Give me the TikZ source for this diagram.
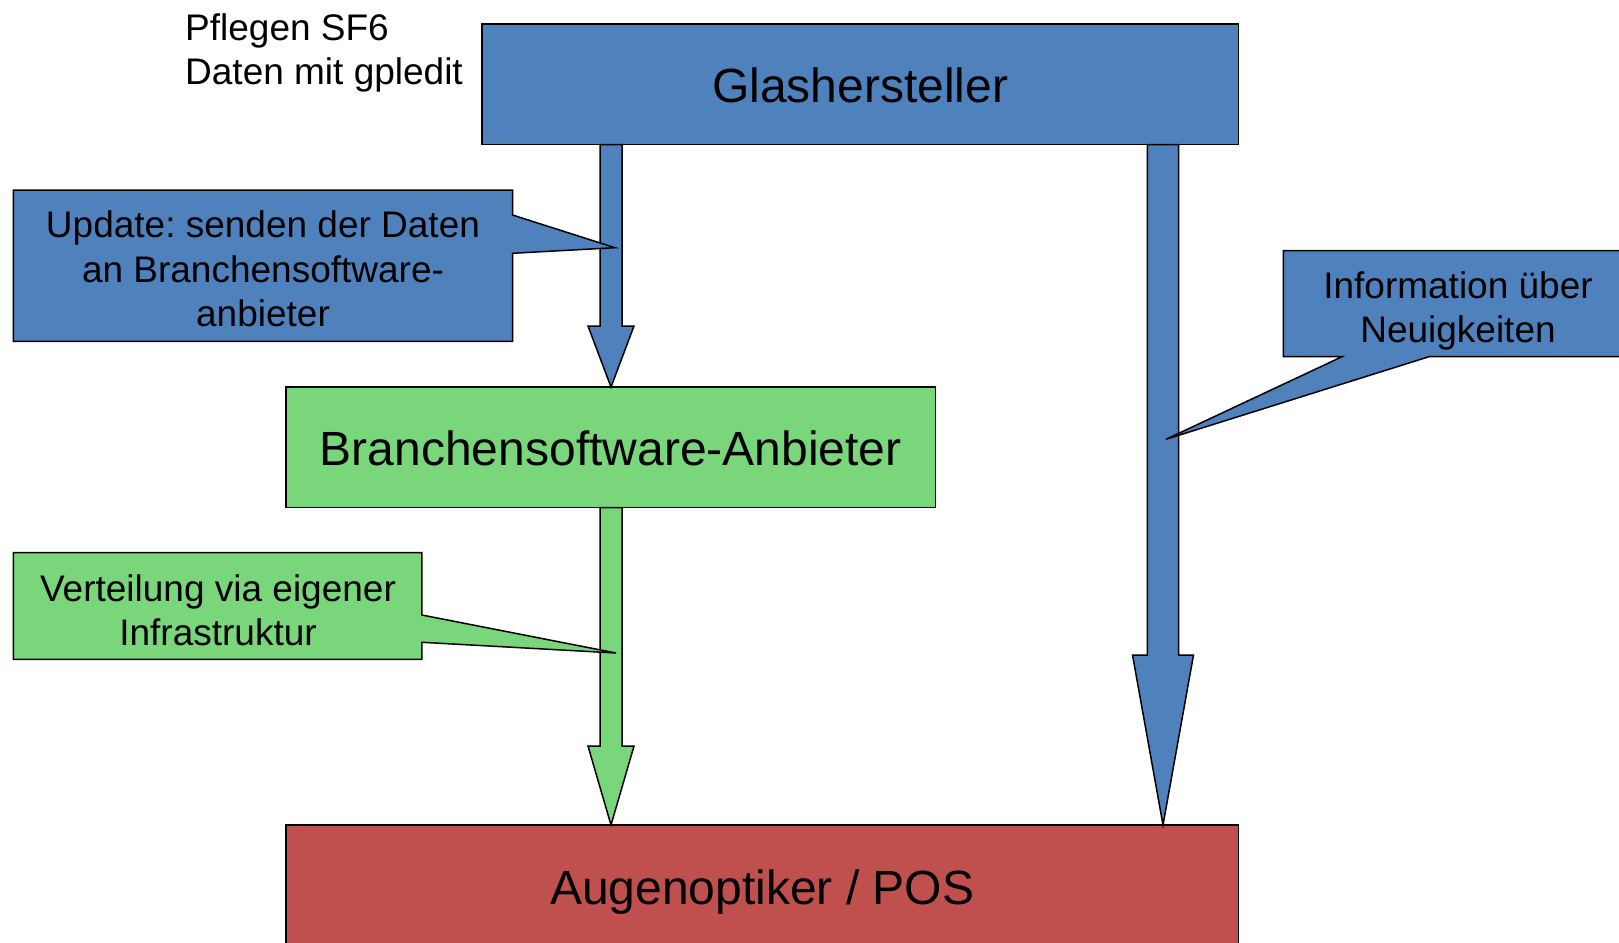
\documentclass[tikz,border=0pt]{standalone}
\usepackage{fontspec}
\setmainfont{Liberation Sans}
\usetikzlibrary{calc}
\definecolor{cblue}{RGB}{79,129,189}
\definecolor{cgreen}{RGB}{122,214,122}
\definecolor{cred}{RGB}{192,80,77}
\tikzset{
  box/.style={draw=black, line width=1.5pt, inner sep=0pt, outer sep=0pt,
    font=\fontsize{48}{57.6}\selectfont, minimum height=120.5pt,
    text height=40pt, text depth=3pt},
  outl/.style={draw=black, line width=1.5pt, line join=miter},
  calltext/.style={inner sep=0pt, align=center, font=\fontsize{37}{44.4}\selectfont},
}
% down block arrow: style, from, to, shaft half width, head half width, head length
\newcommand{\blockdown}[6]{%
  \draw[outl,#1] let \p1=(#2), \p2=(#3) in
    (\x1-#4,\y1) -- (\x1-#4,\y2+#6) -- (\x1-#5,\y2+#6) -- (\x1,\y2)
    -- (\x1+#5,\y2+#6) -- (\x1+#4,\y2+#6) -- (\x1+#4,\y1) -- cycle;}
\frenchspacing
\begin{document}
\frenchspacing
\begin{tikzpicture}[x=1pt,y=-1pt]
\useasboundingbox (0,0) rectangle (1619,942);
\clip (0,0) rectangle (1619,942);
% boxes
\node[box, fill=cblue, minimum width=756.5pt] (gl) at (860.25,84.25) {Glashersteller};
\node[box, fill=cgreen, minimum width=649.5pt] (bs) at (610.75,447.25) {Branchensoftware-Anbieter};
\node[box, fill=cred, minimum width=952.5pt, minimum height=121pt] (ao) at (762.25,885.5) {Augenoptiker / POS};
% free text
\node[inner sep=0pt, anchor=north west, align=left, font=\fontsize{37}{44.4}\selectfont] (pf) at (185,13.5) {Pflegen SF6\\Daten mit gpledit};
% arrows
\coordinate (xl) at (611,0);
\coordinate (xr) at (1163,0);
\blockdown{fill=cblue}{gl.south -| xl}{bs.north -| xl}{11}{23}{61}
\blockdown{fill=cgreen}{bs.south -| xl}{ao.north -| xl}{11}{23}{79}
\blockdown{fill=cblue}{gl.south -| xr}{ao.north -| xr}{15.6}{30.5}{170}
% callouts
\coordinate (t1) at (615,247.7);
\coordinate (t2) at (616,653);
\coordinate (t3) at (1166,439.3);
\draw[outl, fill=cblue] (13.4,190) -- (512.5,190) -- (512.5,215) -- (t1) -- (512.5,253.3) -- (512.5,341.3) -- (13.4,341.3) -- cycle;
\draw[outl, fill=cgreen] (13.4,552.7) -- (421.9,552.7) -- (421.9,615) -- (t2) -- (421.9,642.3) -- (421.9,659.3) -- (13.4,659.3) -- cycle;
\draw[outl, fill=cblue] (1283.3,250.7) -- (1640,250.7) -- (1640,356.7) -- (1429,356.7) -- (t3) -- (1342,356.7) -- (1283.3,356.7) -- cycle;
\node[calltext] (c1) at (263,269) {Update: senden der Daten\\an Branchensoftware-\\anbieter};
\node[calltext] (c2) at (218,610) {Verteilung via eigener\\Infrastruktur};
\node[calltext] (c3) at (1458,311) {Information über\\Neuigkeiten};
\end{tikzpicture}
\end{document}
